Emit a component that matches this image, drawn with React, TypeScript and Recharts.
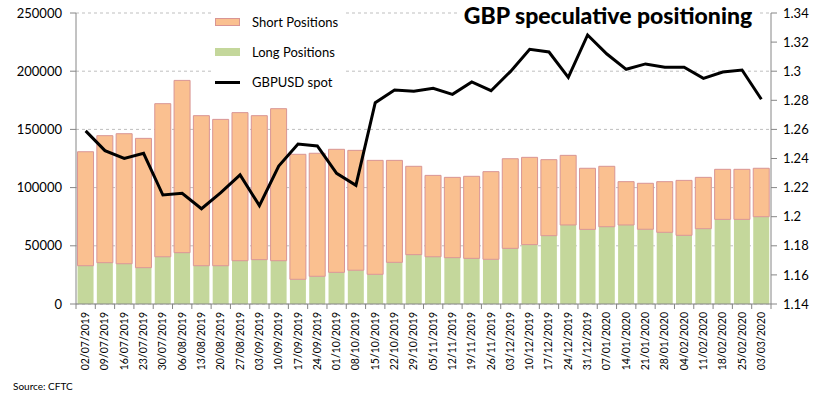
import { ComposedChart, Bar, Line, XAxis, YAxis, CartesianGrid } from 'recharts';

const dates = [
  '02/07/2019', '09/07/2019', '16/07/2019', '23/07/2019', '30/07/2019', '06/08/2019',
  '13/08/2019', '20/08/2019', '27/08/2019', '03/09/2019', '10/09/2019', '17/09/2019',
  '24/09/2019', '01/10/2019', '08/10/2019', '15/10/2019', '22/10/2019', '29/10/2019',
  '05/11/2019', '12/11/2019', '19/11/2019', '26/11/2019', '03/12/2019', '10/12/2019',
  '17/12/2019', '24/12/2019', '31/12/2019', '07/01/2020', '14/01/2020', '21/01/2020',
  '28/01/2020', '04/02/2020', '11/02/2020', '18/02/2020', '25/02/2020', '03/03/2020',
];

const longPositions = [
  32900, 35500, 34600, 31200, 40600, 44100, 32900, 32900, 37200, 38100, 37200, 21200,
  23800, 27200, 29000, 25500, 35800, 42400, 40600, 39800, 39200, 38400, 47800, 51000,
  58700, 67900, 64100, 66400, 67900, 64200, 61600, 59000, 64700, 72700, 72700, 75000,
];

const shortPositions = [
  97900, 109100, 111700, 111100, 131500, 148000, 128900, 125700, 127200, 123700, 130600, 107400,
  105700, 105700, 103000, 97900, 87600, 75900, 69900, 69000, 70500, 75300, 77000, 75000,
  65300, 59800, 52500, 51900, 37200, 39500, 43500, 47200, 44100, 43000, 43000, 41600,
];

const gbpusdSpot = [
  1.259, 1.2454, 1.2401, 1.2436, 1.2149, 1.2161, 1.2055, 1.2165, 1.2287, 1.2076, 1.2348, 1.25,
  1.2486, 1.2298, 1.2216, 1.2784, 1.2871, 1.2862, 1.2882, 1.2841, 1.2926, 1.2866, 1.2997, 1.315,
  1.3132, 1.2958, 1.3249, 1.3118, 1.3013, 1.305, 1.3027, 1.3027, 1.2951, 1.2994, 1.3008, 1.2807,
];

const positionTicks = [0, 50000, 100000, 150000, 200000, 250000];
const spotTicks = [1.14, 1.16, 1.18, 1.2, 1.22, 1.24, 1.26, 1.28, 1.3, 1.32, 1.34];

const data = dates.map((date, i) => ({
  date,
  long: longPositions[i],
  short: shortPositions[i],
  spot: gbpusdSpot[i],
}));

const FONT = 'Lato, sans-serif';
const AXIS_GREY = '#868686';
const BAND = (771 - 76) / dates.length;

const DateTick = (props: any) => {
  const { x, y, payload, index } = props;
  return (
    <g>
      <line x1={x - BAND / 2} y1={y} x2={x - BAND / 2} y2={y + 5} stroke={AXIS_GREY} />
      {index === dates.length - 1 && (
        <line x1={x + BAND / 2} y1={y} x2={x + BAND / 2} y2={y + 5} stroke={AXIS_GREY} />
      )}
      <text
        transform={`translate(${x + 3.5},${y + 8}) rotate(-90)`}
        textAnchor="end"
        fontSize={10.5}
        fontFamily={FONT}
        fill="#000"
      >
        {payload.value}
      </text>
    </g>
  );
};

const legendRows = [
  { label: 'Short Positions', kind: 'short' },
  { label: 'Long Positions', kind: 'long' },
  { label: 'GBPUSD spot', kind: 'line' },
];

export default function App() {
  return (
    <div style={{ position: 'absolute', left: 0, top: 0, width: 824, height: 394, background: '#fff' }}>
      <ComposedChart
        width={824}
        height={394}
        data={data}
        margin={{ top: 13, right: 0, left: 0, bottom: 0 }}
        barCategoryGap="8%"
      >
        <CartesianGrid vertical={false} stroke="#bfbfbf" strokeDasharray="3 3" yAxisId="left" />
        <XAxis
          dataKey="date"
          interval={0}
          height={90}
          tickSize={0}
          tickMargin={0}
          tickLine={false}
          axisLine={{ stroke: AXIS_GREY }}
          tick={<DateTick />}
        />
        <YAxis
          yAxisId="left"
          width={76}
          domain={[0, 250000]}
          ticks={positionTicks}
          tickSize={6}
          tickMargin={8}
          axisLine={{ stroke: AXIS_GREY }}
          tickLine={{ stroke: AXIS_GREY }}
          tick={{ fill: '#000', fontSize: 13, fontFamily: FONT }}
        />
        <YAxis
          yAxisId="right"
          orientation="right"
          width={53}
          domain={[1.14, 1.34]}
          ticks={spotTicks}
          tickFormatter={(v: number) => String(Number(v.toFixed(2)))}
          tickSize={6}
          tickMargin={6}
          axisLine={{ stroke: AXIS_GREY }}
          tickLine={{ stroke: AXIS_GREY }}
          tick={{ fill: '#000', fontSize: 13, fontFamily: FONT }}
        />
        <Bar
          yAxisId="left"
          dataKey="long"
          stackId="pos"
          name="Long Positions"
          fill="#c4d79b"
          isAnimationActive={false}
        />
        <Bar
          yAxisId="left"
          dataKey="short"
          stackId="pos"
          name="Short Positions"
          fill="#fac090"
          stroke="#d99594"
          strokeWidth={1}
          isAnimationActive={false}
        />
        <Line
          yAxisId="right"
          dataKey="spot"
          name="GBPUSD spot"
          type="linear"
          stroke="#000"
          strokeWidth={3}
          dot={false}
          isAnimationActive={false}
        />
      </ComposedChart>

      {/* legend box, white so it hides the grid lines behind it */}
      <div
        style={{
          position: 'absolute',
          left: 212,
          top: 4,
          width: 132,
          height: 92,
          background: '#fff',
          fontFamily: FONT,
          fontSize: 13,
          color: '#000',
        }}
      >
        {legendRows.map((row, i) => (
          <div
            key={row.label}
            style={{ position: 'absolute', left: 0, top: 8 + i * 30, height: 20, display: 'flex', alignItems: 'center' }}
          >
            {row.kind === 'line' ? (
              <div style={{ width: 25, height: 3, background: '#000', marginLeft: 3 }} />
            ) : (
              <div
                style={{
                  width: row.kind === 'short' ? 23 : 25,
                  height: row.kind === 'short' ? 6 : 8,
                  background: row.kind === 'short' ? '#fac090' : '#c4d79b',
                  border: row.kind === 'short' ? '1px solid #d99594' : 'none',
                  marginLeft: 3,
                }}
              />
            )}
            <span style={{ marginLeft: 12 }}>{row.label}</span>
          </div>
        ))}
      </div>

      <div
        style={{
          position: 'absolute',
          left: 458,
          top: 0,
          width: 300,
          height: 30,
          background: '#fff',
          fontFamily: FONT,
          fontWeight: 900,
          fontSize: 23,
          lineHeight: '30px',
          textAlign: 'center',
          color: '#000',
        }}
      >
        GBP speculative positioning
      </div>

      <div
        style={{
          position: 'absolute',
          left: 13,
          top: 380,
          fontFamily: FONT,
          fontSize: 10,
          color: '#000',
        }}
      >
        Source: CFTC
      </div>
    </div>
  );
}
